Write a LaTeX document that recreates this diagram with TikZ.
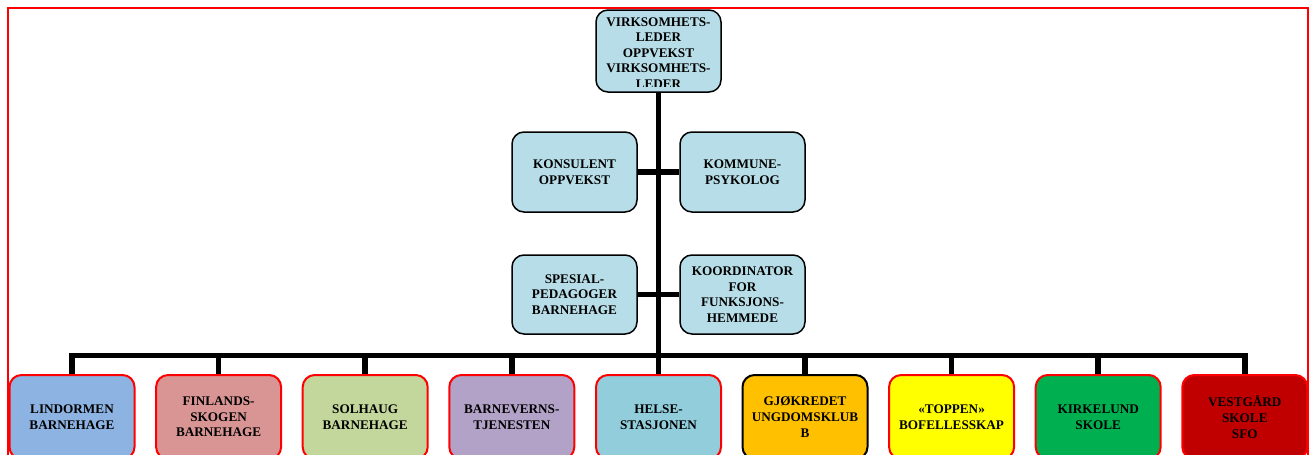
\documentclass[tikz,border=0pt]{standalone}
\usepackage{fontspec}
\setmainfont{Liberation Serif}
\definecolor{tealfill}{HTML}{B7DEE8}
\definecolor{cLind}{HTML}{8DB3E2}
\definecolor{cFinl}{HTML}{D99594}
\definecolor{cSolh}{HTML}{C3D69B}
\definecolor{cBarn}{HTML}{B2A2C7}
\definecolor{cHels}{HTML}{92CDDC}
\definecolor{cGjok}{HTML}{FFC000}
\definecolor{cTopp}{HTML}{FFFF00}
\definecolor{cKirk}{HTML}{00B050}
\definecolor{cVest}{HTML}{C00000}
\newcommand{\lblfont}{\fontsize{13.2}{15.6}\selectfont\bfseries}
\begin{document}
\begin{tikzpicture}[x=1pt,y=-1pt,
  basebox/.style={rounded corners=12pt, minimum width=125pt, minimum height=80pt,
    align=center, font=\lblfont, inner sep=0pt, text=black},
  tealbox/.style={basebox, fill=tealfill, draw=black, line width=1.5pt},
  unitbox/.style={basebox, draw=red, line width=2pt, minimum height=84pt},
  conn/.style={draw=black, line width=5.5pt}]
\clip (0,0) rectangle (1312,455);
\fill[white] (0,0) rectangle (1312,455);
\draw[red, line width=2pt] (8,8) rectangle (1308,480);

% top box
\node[tealbox, minimum height=82pt,
  path picture={
    \clip ([yshift=6pt]path picture bounding box.south west) rectangle (path picture bounding box.north east);
    \node[font=\lblfont, align=center, inner sep=0pt]
    at ([yshift=-2pt]path picture bounding box.center)
    {VIRKSOMHETS-\\LEDER\\OPPVEKST\\VIRKSOMHETS-\\LEDER};}] (top) at (658.5,51) {};

% middle boxes
\node[tealbox] (kons) at (574.5,172) {KONSULENT\\OPPVEKST};
\node[tealbox] (komm) at (742.5,172) {KOMMUNE-\\PSYKOLOG};
\node[tealbox, minimum height=79pt] (spes) at (574.5,294.5) {SPESIAL-\\PEDAGOGER\\BARNEHAGE};
\node[tealbox, minimum height=79pt] (koor) at (742.5,294.5) {KOORDINATOR\\FOR\\FUNKSJONS-\\HEMMEDE};

% bottom units
\node[unitbox, fill=cLind] (u1) at (72,417) {LINDORMEN\\BARNEHAGE};
\node[unitbox, fill=cFinl] (u2) at (218.6,417) {FINLANDS-\\SKOGEN\\BARNEHAGE};
\node[unitbox, fill=cSolh] (u3) at (365.2,417) {SOLHAUG\\BARNEHAGE};
\node[unitbox, fill=cBarn] (u4) at (511.8,417) {BARNEVERNS-\\TJENESTEN};
\node[unitbox, fill=cHels] (u5) at (658.5,417) {HELSE-\\STASJONEN};
\node[unitbox, fill=cGjok, draw=black] (u6) at (805,417) {GJØKREDET\\UNGDOMSKLUB\\B};
\node[unitbox, fill=cTopp] (u7) at (951.6,417) {«TOPPEN»\\BOFELLESSKAP};
\node[unitbox, fill=cKirk] (u8) at (1098.2,417) {KIRKELUND\\SKOLE};
\node[unitbox, fill=cVest] (u9) at (1244.8,417) {VESTGÅRD\\SKOLE\\SFO};

% connectors
\coordinate (bus) at (658.5,355.5);
\path[conn] (top.south) -- (top.south |- bus);
\path[conn] (kons.east) -- (komm.west);
\path[conn] (spes.east) -- (koor.west);
\path[conn] (u1.north) -- (u1.north |- bus) -- (u9.north |- bus) -- (u9.north);
\foreach \u in {u2,u3,u4,u5,u6,u7,u8}{
  \path[conn] (\u.north) -- (\u.north |- bus);
}
\end{tikzpicture}
\end{document}
